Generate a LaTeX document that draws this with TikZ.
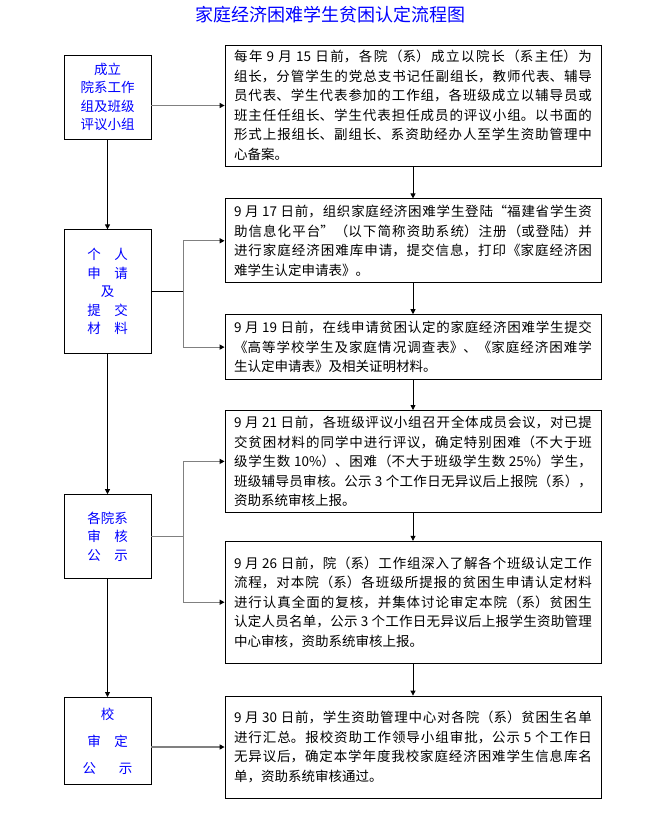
\documentclass[tikz,border=0pt]{standalone}
\usepackage{fontspec}
\newfontfamily\cjk{Noto Sans CJK SC}
\usetikzlibrary{arrows.meta,positioning}
\XeTeXlinebreaklocale "zh"
\XeTeXlinebreakskip=0pt plus 2pt

\begin{document}
\begin{tikzpicture}[
  x=1pt, y=-1pt,
  font=\cjk,
  stage/.style={draw, line width=.8pt, minimum width=87pt, inner sep=0pt,
    align=center, text=blue, font=\cjk\fontsize{13.5}{18.5}\selectfont},
  detail/.style={draw, line width=.8pt, text width=358pt, inner xsep=9pt,
    inner ysep=0pt, align=justify, font=\cjk\fontsize{13.5}{19.5}\selectfont},
  flow/.style={-{Triangle[length=5pt, width=5pt]}, line width=.8pt},
  feed/.style={-{Triangle[length=5pt, width=5pt, black]}, draw=gray, line width=1.2pt},
  spur/.style={draw=gray, line width=1.2pt}
]
\path[fill=white] (0,0) rectangle (655,821);
\node[text=blue, font=\cjk\fontsize{18}{18}\selectfont] (title) at (330,15) {家庭经济困难学生贫困认定流程图};

% steps on the right
\node[detail, minimum height=121pt] (plan) at (413,105.5) {每年 9 月 15 日前，各院（系）成立以院长（系主任）为\linebreak 组长，分管学生的党总支书记任副组长，教师代表、辅导\linebreak 员代表、学生代表参加的工作组，各班级成立以辅导员或\linebreak 班主任任组长、学生代表担任成员的评议小组。以书面的\linebreak 形式上报组长、副组长、系资助经办人至学生资助管理中\linebreak 心备案。};
\node[detail, minimum height=84pt, below=32pt of plan] (apply) {9 月 17 日前，组织家庭经济困难学生登陆“福建省学生资\linebreak 助信息化平台”（以下简称资助系统）注册（或登陆）并\linebreak 进行家庭经济困难库申请，提交信息，打印《家庭经济困\linebreak 难学生认定申请表》。};
\node[detail, minimum height=65pt, below=31pt of apply] (submit) {9 月 19 日前，在线申请贫困认定的家庭经济困难学生提交\linebreak 《高等学校学生及家庭情况调查表》、《家庭经济困难学\linebreak 生认定申请表》及相关证明材料。};
\node[detail, minimum height=102pt, below=30pt of submit] (classrev) {9 月 21 日前，各班级评议小组召开全体成员会议，对已提\linebreak 交贫困材料的同学中进行评议，确定特别困难（不大于班\linebreak 级学生数 10\%）、困难（不大于班级学生数 25\%）学生，\linebreak 班级辅导员审核。公示 3 个工作日无异议后上报院（系），\linebreak 资助系统审核上报。};
\node[detail, minimum height=122pt, below=28pt of classrev] (deptrev) {9 月 26 日前，院（系）工作组深入了解各个班级认定工作\linebreak 流程，对本院（系）各班级所提报的贫困生申请认定材料\linebreak 进行认真全面的复核，并集体讨论审定本院（系）贫困生\linebreak 认定人员名单，公示 3 个工作日无异议后上报学生资助管理\linebreak 中心审核，资助系统审核上报。};
\node[detail, minimum height=102pt, below=32pt of deptrev] (schoolrev) {9 月 30 日前，学生资助管理中心对各院（系）贫困生名单\linebreak 进行汇总。报校资助工作领导小组审批，公示 5 个工作日\linebreak 无异议后，确定本学年度我校家庭经济困难学生信息库名\linebreak 单，资助系统审核通过。};

% stages on the left
\node[stage, minimum height=84pt] (setup) at (107.5,97) {成立\\院系工作\\组及班级\\评议小组};
\node[stage, minimum height=124pt, below=90pt of setup] (personal) {个\hspace{1em}人\\申\hspace{1em}请\\及\\提\hspace{1em}交\\材\hspace{1em}料};
\node[stage, minimum height=84pt, below=140pt of personal] (deptpub) {各院系\\审\hspace{1em}核\\公\hspace{1em}示};
\node[stage, minimum height=87pt, below=118pt of deptpub, font=\cjk\fontsize{13.5}{27}\selectfont] (schoolpub) {校\\审\hspace{1em}定\\公\hspace{1.7em}示};

\coordinate (fork1) at ([xshift=32pt]personal.east);
\coordinate (fork2) at ([xshift=32pt]deptpub.east);

\draw[flow] (setup) -- (personal);
\draw[flow] (personal) -- (deptpub);
\draw[flow] (deptpub) -- (schoolpub);
\draw[flow] (plan) -- (apply);
\draw[flow] (apply) -- (submit);
\draw[flow] (submit) -- (classrev);
\draw[flow] (classrev) -- (deptrev);
\draw[flow] (deptrev) -- (schoolrev);

\draw[feed] (setup.east |- plan.west) -- (plan.west);
\draw[line width=.8pt] (personal.east) -- (fork1);
\draw[spur] (fork1 |- apply.west) -- (fork1 |- submit.west);
\draw[feed] (fork1 |- apply.west) -- (apply.west);
\draw[feed] (fork1 |- submit.west) -- (submit.west);
\draw[spur] (deptpub.east) -- (fork2);
\draw[spur] (fork2 |- classrev.west) -- (fork2 |- deptrev.west);
\draw[feed] (fork2 |- classrev.west) -- (classrev.west);
\draw[feed] (fork2 |- deptrev.west) -- (deptrev.west);
\draw[feed] (schoolpub.east |- schoolrev.west) -- (schoolrev.west);
\end{tikzpicture}
\end{document}
